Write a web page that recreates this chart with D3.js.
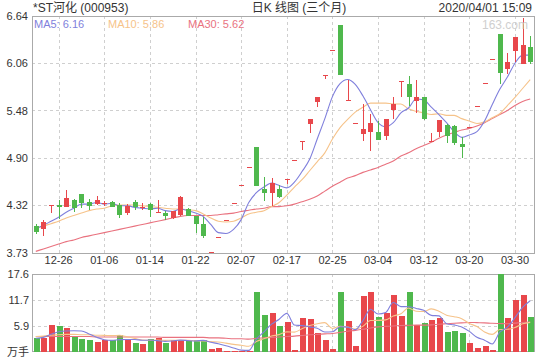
<!DOCTYPE html>
<html><head><meta charset="utf-8">
<script src="https://cdn.jsdelivr.net/npm/d3@7/dist/d3.min.js"></script>
<style>body{margin:0;background:#fff}svg{display:block}</style>
</head><body><svg id="c" width="540" height="360"></svg>
<script>
const dates = ["12-23","12-24","12-25","12-26","12-27","12-30","12-31","01-02","01-03","01-06","01-07","01-08","01-09","01-10","01-13","01-14","01-15","01-16","01-17","01-20","01-21","01-22","01-23","02-03","02-04","02-05","02-06","02-07","02-10","02-11","02-12","02-13","02-14","02-17","02-18","02-19","02-20","02-21","02-24","02-25","02-26","02-27","02-28","03-02","03-03","03-04","03-05","03-06","03-09","03-10","03-11","03-12","03-13","03-16","03-17","03-18","03-19","03-20","03-23","03-24","03-25","03-26","03-27","03-30","03-31","04-01"];
const openP  = [4.06,4.02,4.32,4.32,4.30,4.38,4.45,4.36,4.33,4.33,4.36,4.32,4.22,4.36,4.29,4.33,4.22,4.22,4.16,4.20,4.27,4.18,4.08,3.74,3.93,4.13,4.34,4.56,4.79,5.03,4.52,4.47,4.52,4.64,4.87,5.11,5.32,5.59,5.92,6.22,6.53,5.61,5.33,5.19,5.22,5.22,5.17,5.49,5.84,5.80,5.60,5.65,5.10,5.22,5.30,5.29,5.07,5.28,5.54,5.82,6.11,6.42,5.99,6.21,6.05,6.26];
const highP  = [4.09,4.14,4.32,4.38,4.50,4.39,4.45,4.39,4.43,4.37,4.37,4.35,4.33,4.38,4.34,4.35,4.38,4.25,4.25,4.43,4.28,4.19,4.17,3.74,3.93,4.13,4.34,4.56,4.79,5.03,4.66,4.65,4.56,4.64,4.87,5.11,5.37,5.64,5.92,6.22,6.53,5.85,5.33,5.56,5.44,5.35,5.38,5.65,5.84,5.90,5.85,5.65,5.20,5.36,5.31,5.30,5.15,5.28,5.54,5.82,6.11,6.42,6.18,6.38,6.62,6.40];
const lowP   = [3.96,3.94,4.22,4.15,4.29,4.23,4.28,4.26,4.32,4.31,4.29,4.16,4.20,4.26,4.26,4.17,4.22,4.13,4.15,4.19,4.19,3.97,3.92,3.74,3.93,4.13,4.34,4.56,4.79,4.55,4.37,4.31,4.41,4.58,4.87,5.00,5.20,5.52,5.87,6.22,5.91,5.61,5.33,5.11,4.98,5.12,5.12,5.38,5.65,5.54,5.45,5.36,5.10,5.15,5.08,5.05,4.90,5.28,5.54,5.82,6.11,5.81,5.93,6.07,6.05,6.05];
const closeP = [3.99,4.11,4.32,4.30,4.41,4.28,4.35,4.31,4.38,4.34,4.30,4.20,4.31,4.29,4.30,4.26,4.23,4.18,4.24,4.42,4.19,4.09,3.94,3.74,3.93,4.13,4.34,4.56,4.79,4.55,4.47,4.59,4.42,4.64,4.87,5.11,5.37,5.64,5.92,6.22,5.91,5.61,5.33,5.25,5.33,5.12,5.38,5.56,5.84,5.65,5.65,5.37,5.10,5.36,5.17,5.08,5.03,5.28,5.54,5.82,6.11,5.94,6.07,6.38,6.29,6.07];
const volume = [3.1,3.0,6.0,5.8,5.4,3.3,2.8,2.6,2.1,2.6,2.5,3.7,2.8,2.0,1.7,2.8,3.0,2.0,2.5,2.6,2.3,2.6,2.6,0.5,0.75,0.1,0.1,0.1,0.2,13.6,8.3,8.8,5.8,6.8,0.3,7.7,7.4,4.2,2.6,0.5,13.4,7.0,1.3,12.7,13.6,7.9,8.7,12.8,8.0,13.4,6.0,6.5,7.1,7.5,4.5,4.6,4.2,2.0,0.8,1.3,0.3,17.5,7.7,11.7,12.8,7.9];
const ma5  = [4.03,4.07,4.12,4.17,4.23,4.28,4.33,4.33,4.35,4.33,4.34,4.31,4.31,4.29,4.28,4.27,4.28,4.25,4.24,4.27,4.25,4.22,4.18,4.08,3.98,3.97,4.02,4.14,4.35,4.47,4.54,4.59,4.56,4.53,4.60,4.73,4.88,5.13,5.38,5.65,5.81,5.86,5.80,5.66,5.49,5.33,5.28,5.33,5.45,5.51,5.62,5.61,5.52,5.43,5.33,5.22,5.15,5.18,5.22,5.35,5.55,5.74,5.89,6.06,6.16,6.16];
const ma10 = [4.03,4.06,4.09,4.12,4.16,4.19,4.22,4.25,4.27,4.28,4.31,4.32,4.32,4.32,4.31,4.30,4.29,4.28,4.27,4.27,4.26,4.25,4.21,4.16,4.12,4.11,4.12,4.16,4.21,4.23,4.25,4.30,4.35,4.44,4.54,4.63,4.74,4.85,4.96,5.13,5.27,5.37,5.46,5.52,5.57,5.57,5.57,5.56,5.56,5.50,5.47,5.45,5.43,5.44,5.42,5.42,5.38,5.35,5.32,5.34,5.39,5.44,5.54,5.64,5.75,5.86];
const ma30 = [3.75,3.78,3.81,3.84,3.87,3.89,3.92,3.94,3.96,3.98,4.00,4.02,4.04,4.06,4.08,4.10,4.12,4.14,4.16,4.18,4.19,4.19,4.19,4.19,4.20,4.21,4.22,4.24,4.255,4.27,4.28,4.30,4.30,4.31,4.33,4.36,4.39,4.43,4.49,4.55,4.60,4.65,4.68,4.72,4.75,4.78,4.82,4.86,4.92,4.96,5.01,5.05,5.09,5.14,5.18,5.21,5.24,5.26,5.29,5.33,5.38,5.43,5.48,5.54,5.59,5.62];
const volMa5  = [3.0,3.2,3.9,4.5,4.66,4.7,4.66,3.98,3.24,2.68,2.52,2.7,2.74,2.72,2.54,2.6,2.46,2.3,2.4,2.58,2.48,2.4,2.52,2.12,1.75,1.31,0.81,0.31,0.25,2.82,4.46,6.2,7.34,8.66,6.0,5.88,5.6,5.28,4.44,4.48,5.62,5.54,4.96,6.98,9.6,8.5,8.84,11.14,10.2,10.16,9.78,9.34,8.2,8.1,6.32,6.04,5.58,4.56,3.22,2.58,1.72,4.38,5.52,7.7,10.0,11.52];
const volMa10 = [3.4,3.5,3.7,3.8,3.9,3.9,3.8,3.8,3.7,3.67,3.61,3.68,3.36,2.98,2.61,2.56,2.58,2.52,2.56,2.56,2.54,2.43,2.41,2.26,2.17,1.9,1.61,1.42,1.19,2.29,2.89,3.51,3.83,4.46,4.41,5.17,5.9,6.31,6.55,5.24,5.75,5.57,5.12,5.71,7.04,7.06,7.19,8.05,8.59,9.88,9.14,9.09,9.67,9.15,8.24,7.91,7.46,6.38,5.66,4.45,3.88,4.98,5.04,5.46,6.29,6.62];
const volMa30 = [3.4,3.4,3.4,3.4,3.4,3.4,3.4,3.4,3.3,3.3,3.3,3.3,3.3,3.3,3.3,3.3,3.3,3.2,3.2,3.2,3.2,3.2,3.2,3.1,3.1,3.0,2.9,2.9,2.8,3.0,3.1,3.2,3.3,3.4,3.5,3.65,3.8,3.9,4.0,4.1,4.35,4.6,4.8,5.05,5.35,5.6,5.7,5.8,5.9,5.95,6.0,6.0,6.05,6.2,6.3,6.4,6.5,6.6,6.55,6.5,6.4,6.35,6.3,6.45,6.6,6.7];
const priceTicks = [3.73,4.32,4.90,5.48,6.06,6.64];
const volTicks = [0,5.9,11.7,17.6];
const tickDates = ["12-26","01-06","01-14","01-22","02-07","02-17","02-25","03-04","03-12","03-20","03-30"];
const title = "*ST河化 (000953)";
const subTitle = "日K 线图 (三个月)";
const stamp = "2020/04/01 15:09";

const RED = "#e8474b", GREEN = "#4fb84d";
const C5 = "#7f7fdc", C10 = "#f6c38a", C30 = "#e9727f";
const FONT = "'Liberation Sans', Arial, 'Noto Sans CJK SC', sans-serif";

const svg = d3.select("#c");
const L = 32, R = 534, PT = 16, PB = 253, VT = 274, VB = 351.5;
const idx = d3.range(dates.length);
const x = d3.scaleBand().domain(idx).range([L, R]).padding(0);
const cx = i => x(i) + x.bandwidth() / 2;
const y = d3.scaleLinear().domain([3.73, 6.64]).range([PB, PT]);
const yv = d3.scaleLinear().domain([0, 17.6]).range([VB, VT]);
const tickIdx = tickDates.map(d => dates.indexOf(d));

// grids
const grid = svg.append("g").attr("stroke", "#cfcfcf").attr("stroke-dasharray", "3,3").attr("shape-rendering", "crispEdges");
tickIdx.forEach(i => {
  const xx = Math.round(cx(i)) + 0.5;
  grid.append("line").attr("x1", xx).attr("x2", xx).attr("y1", PT).attr("y2", PB);
  grid.append("line").attr("x1", xx).attr("x2", xx).attr("y1", VT).attr("y2", VB);
});
priceTicks.slice(1, -1).forEach(p => {
  const yy = Math.round(y(p)) + 0.5;
  grid.append("line").attr("x1", L).attr("x2", R).attr("y1", yy).attr("y2", yy);
});
volTicks.slice(1, -1).forEach(v => {
  const yy = Math.round(yv(v)) + 0.5;
  grid.append("line").attr("x1", L).attr("x2", R).attr("y1", yy).attr("y2", yy);
});

// borders
svg.append("rect").attr("x", L + 0.5).attr("y", PT + 0.5).attr("width", R - L).attr("height", PB - PT)
  .attr("fill", "none").attr("stroke", "#aaa").attr("shape-rendering", "crispEdges");
svg.append("rect").attr("x", L + 0.5).attr("y", VT + 0.5).attr("width", R - L).attr("height", VB - VT - 0.5)
  .attr("fill", "none").attr("stroke", "#aaa").attr("shape-rendering", "crispEdges");

// axes
const yAxis = d3.axisLeft(y).tickValues(priceTicks).tickSize(0).tickPadding(4).tickFormat(d3.format(".2f"));
svg.append("g").attr("transform", `translate(${L},0)`).call(yAxis)
  .call(g => g.select(".domain").remove())
  .selectAll("text").attr("font-family", FONT).attr("font-size", 11).attr("fill", "#333");
const vAxis = d3.axisLeft(yv).tickValues(volTicks).tickSize(0).tickPadding(3).tickFormat(d => d === 0 ? "万手" : d3.format(".1f")(d));
svg.append("g").attr("transform", `translate(${L},0)`).call(vAxis)
  .call(g => g.select(".domain").remove())
  .selectAll("text").attr("font-family", FONT).attr("font-size", 11).attr("fill", "#333");
const xAxis = d3.axisBottom(x).tickValues(tickIdx).tickSize(0).tickPadding(0).tickFormat(i => dates[i]);
svg.append("g").attr("transform", `translate(0,${PB + 3})`).call(xAxis)
  .call(g => g.select(".domain").remove())
  .selectAll("text").attr("font-family", FONT).attr("font-size", 11).attr("fill", "#333");

// MA lines (price)
const line = d3.line().x((d, i) => cx(i)).y(d => y(d)).curve(d3.curveMonotoneX);
[[ma30, C30], [ma10, C10], [ma5, C5]].forEach(([arr, c]) => {
  svg.append("path").attr("d", line(arr)).attr("fill", "none").attr("stroke", c).attr("stroke-width", 1.1);
});

// candles
const bw = 5;
const cg = svg.append("g").attr("shape-rendering", "crispEdges");
idx.forEach(i => {
  const o = openP[i], c = closeP[i], h = highP[i], l = lowP[i];
  const col = c >= o ? RED : GREEN;
  const xc = Math.round(cx(i));
  cg.append("rect").attr("x", xc).attr("y", y(h)).attr("width", 1).attr("height", Math.max(1, y(l) - y(h))).attr("fill", col);
  const top = y(Math.max(o, c)), bot = y(Math.min(o, c));
  cg.append("rect").attr("x", xc - 2).attr("y", top).attr("width", bw).attr("height", Math.max(1, bot - top)).attr("fill", col);
});

// volume bars
const vg = svg.append("g").attr("shape-rendering", "crispEdges");
idx.forEach(i => {
  const col = closeP[i] >= openP[i] ? RED : GREEN;
  const xc = Math.round(cx(i));
  vg.append("rect").attr("x", xc - 2).attr("y", yv(volume[i])).attr("width", 6).attr("height", Math.max(0.5, VB - yv(volume[i]))).attr("fill", col);
});
// volume MA lines
const vline = d3.line().x((d, i) => cx(i)).y(d => yv(d)).curve(d3.curveMonotoneX);
[[volMa30, C30], [volMa10, C10], [volMa5, C5]].forEach(([arr, c]) => {
  svg.append("path").attr("d", vline(arr)).attr("fill", "none").attr("stroke", c).attr("stroke-width", 1.1);
});

// header texts
svg.append("text").attr("x", 33).attr("y", 12).attr("font-family", FONT).attr("font-size", 12).attr("fill", "#333").text(title);
svg.append("text").attr("x", 299).attr("y", 12).attr("text-anchor", "middle").attr("font-family", FONT).attr("font-size", 12).attr("fill", "#333").text(subTitle);
svg.append("text").attr("x", 532).attr("y", 12).attr("text-anchor", "end").attr("font-family", FONT).attr("font-size", 12).attr("fill", "#333").text(stamp);

// legend
const n = dates.length - 1;
svg.append("text").attr("x", 34).attr("y", 28).attr("font-family", FONT).attr("font-size", 11).attr("fill", C5).text("MA5: " + ma5[n].toFixed(2));
svg.append("text").attr("x", 108).attr("y", 28).attr("font-family", FONT).attr("font-size", 11).attr("fill", C10).text("MA10: " + ma10[n].toFixed(2));
svg.append("text").attr("x", 188).attr("y", 28).attr("font-family", FONT).attr("font-size", 11).attr("fill", C30).text("MA30: " + ma30[n].toFixed(2));
svg.append("text").attr("x", 528).attr("y", 29).attr("text-anchor", "end").attr("font-family", FONT).attr("font-size", 12).attr("fill", "#cfcfcf").text("163.com");
</script></body></html>
